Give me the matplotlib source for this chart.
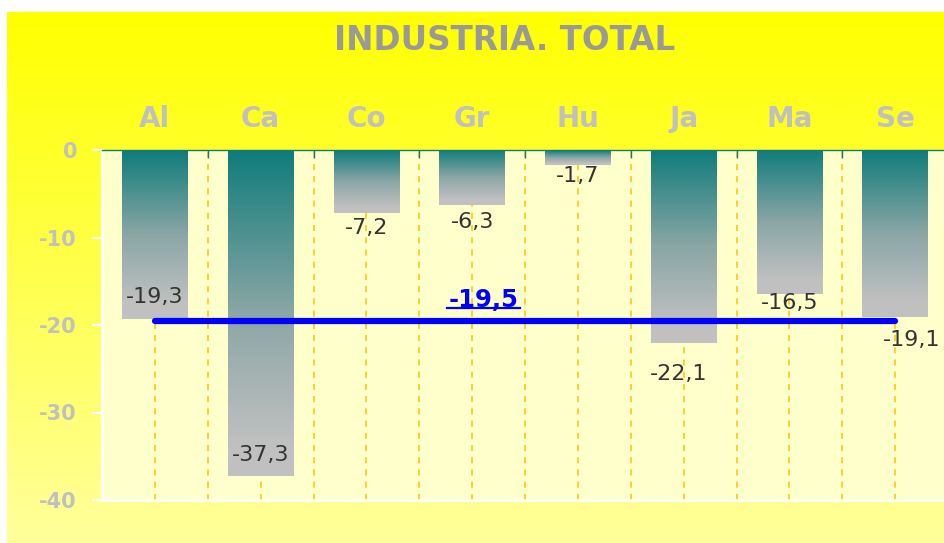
import matplotlib
matplotlib.use('Agg')
import matplotlib.pyplot as plt
from matplotlib.colors import LinearSegmentedColormap
import numpy as np

plt.rcParams['font.family'] = ['DejaVu Sans']
plt.rcParams['axes.unicode_minus'] = False

# data
regions = ['Al', 'Ca', 'Co', 'Gr', 'Hu', 'Ja', 'Ma', 'Se']
values = [-19.3, -37.3, -7.2, -6.3, -1.7, -22.1, -16.5, -19.1]
total = -19.5
title = 'INDUSTRIA. TOTAL'
yticks = [0, -10, -20, -30, -40]

# where each value label sits relative to the bar end (data units)
label_dy = [2.5, 2.4, -1.7, -1.9, -1.3, -3.5, -1.0, -2.6]
label_dx = [0, 0, 0, 0, 0, -0.05, 0, 0.16]

teal = '#0e7c7b'
grey = '#c0c0c0'
fmt = lambda v: ('%.1f' % v).replace('.', ',')

fig = plt.figure(figsize=(9.44, 5.43), dpi=100, facecolor='white')

# yellow gradient panel behind everything
bg = fig.add_axes([7/944, 0, 937/944, 531/543], zorder=0)
grad = np.linspace(0, 1, 512).reshape(-1, 1)
bg_cmap = LinearSegmentedColormap.from_list('bg', ['#ffff00', '#ffff9c'], N=512)
bg.imshow(grad, cmap=bg_cmap, aspect='auto', extent=[0, 1, 0, 1], origin='upper')
bg.set_axis_off()

ax = fig.add_axes([102/944, 43/543, 846/944, 350/543], zorder=1)
ax.set_facecolor('#ffffcc')
x = np.arange(len(regions))
w = 0.62
bar_cmap = LinearSegmentedColormap.from_list(
    'bar', [(0, teal), (0.5, '#8aa6a5'), (0.9, grey), (1, grey)], N=1024)

for i, v in enumerate(values):
    g = np.linspace(0, 1, 1024).reshape(-1, 1)
    ax.imshow(g, cmap=bar_cmap, aspect='auto', origin='upper',
              extent=[x[i]-w/2, x[i]+w/2, v, 0], zorder=2, interpolation='nearest')
    ax.text(x[i]+label_dx[i], v+label_dy[i], fmt(v), ha='center', va='center',
            fontsize=16, color='#333333', zorder=5)

# total line
ax.plot([x[0], x[-1]], [total, total], color='#0000ff', lw=4.5,
        solid_capstyle='round', zorder=4)
tx = 3.11
ax.text(tx, total+2.4, fmt(total), ha='center', va='center', fontsize=17.5,
        fontweight='bold', color='#0000ff', zorder=5)
ax.plot([tx-0.345, tx+0.345], [total+1.4, total+1.4], color='#0000ff', lw=1.6, zorder=5)

ax.set_xlim(-0.5, len(regions)-0.5)
ax.set_ylim(-40, 0)

# axis styling
ax.xaxis.tick_top()
ax.set_xticks(x)
ax.set_xticklabels(regions, fontsize=20, fontweight='bold', color='#c0c0c0')
ax.set_xticks(np.arange(len(regions)+1)-0.5, minor=True)
ax.tick_params(axis='x', which='major', length=0, pad=12)
ax.tick_params(axis='x', which='minor', length=6, direction='in', color=teal, width=1)
ax.grid(True, axis='x', which='both', color='#ffc000', lw=1.1, linestyle=(0, (4, 4)))
ax.set_axisbelow(True)

ax.set_yticks(yticks)
ax.set_yticklabels([str(v) for v in yticks], fontsize=15, fontweight='bold', color='#c0c0c0')
ax.tick_params(axis='y', length=7, width=1.5, color='white', pad=11)

ax.spines['right'].set_visible(False)
ax.spines['top'].set_color(teal)
ax.spines['top'].set_linewidth(1)
ax.spines['left'].set_color('white')
ax.spines['left'].set_linewidth(2)
ax.spines['bottom'].set_color('white')
ax.spines['bottom'].set_linewidth(2)

fig.text(505/944, 1-40/543, title, ha='center', va='center', fontsize=23.5,
         fontweight='bold', color='#999999')

fig.savefig('out.png', dpi=100, facecolor='white')
